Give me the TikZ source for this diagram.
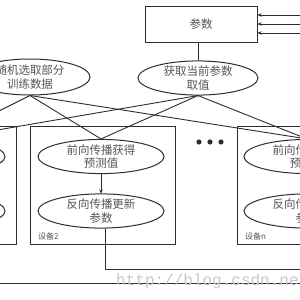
\documentclass[tikz,border=0pt]{standalone}
\usepackage{fontspec}
\newfontfamily\cjk{Noto Sans CJK SC}
\newfontfamily\wm{Liberation Mono}
\usetikzlibrary{shapes.geometric,arrows.meta}
\definecolor{ink}{HTML}{2E2E2E}
\definecolor{txt}{HTML}{555555}
\tikzset{
  ln/.style={draw=ink, line width=1pt},
  oval/.style={ln, ellipse, minimum width=126pt, minimum height=33pt, inner sep=0pt,
    align=center, font=\cjk\fontsize{11.5}{13.5}\selectfont, text=txt},
  topoval/.style={oval, minimum width=120pt, minimum height=34pt},
  devbox/.style={ln, rectangle, minimum width=145pt, minimum height=118pt, inner sep=0pt},
  devlabel/.style={anchor=west, inner sep=0pt, font=\cjk\fontsize{8}{9}\selectfont, text=txt},
  arr/.style={ln, -{Stealth[length=4pt,width=3.5pt]}},
}
\begin{document}
\begin{tikzpicture}[x=1pt,y=-1pt]
\useasboundingbox (0,0) rectangle (300,300);
\clip (0,0) rectangle (300,300);
\fill[white] (0,0) rectangle (300,300);
% parameter box
\node[ln, rectangle, minimum width=112pt, minimum height=36pt, inner sep=0pt,
  font=\cjk\fontsize{11.5}{13.5}\selectfont, text=txt] (params) at (201,24) {参数};
% top ellipses
\node[topoval] (getp) at (198,78) {获取当前参数\\取值};
\node[topoval, minimum height=36pt] (data) at (30,77) {随机选取部分\\训练数据};
\draw[ln] (params.south -| getp.north) -- (getp.north);
% device boxes
\node[devbox] (dev1) at (-56.5,185) {};
\node[devbox] (dev2) at (102.5,185) {};
\node[devbox] (devn) at (309.5,185) {};
% device ellipses
\node[oval] (fwd1) at (-58,156.5) {};
\node[oval] (bwd1) at (-58,211) {};
\node[oval] (fwd2) at (101,156.5) {前向传播获得\\预测值};
\node[oval] (bwd2) at (101,211) {反向传播更新\\参数};
\node[oval] (fwdn) at (307,156.5) {前向传播获得\\预测值};
\node[oval] (bwdn) at (307,211) {反向传播更新\\参数};
\draw[arr] (fwd1) -- (bwd1);
\draw[arr] (fwd2) -- (bwd2);
\draw[arr] (fwdn) -- (bwdn);
% labels
\node[devlabel] (lab2) at (38,236) {设备2};
\node[devlabel] (labn) at (245,236) {设备n};
% dots
\fill[ink] (199,142) circle (2.6pt) (210,142) circle (2.6pt) (221,142) circle (2.6pt);
% crossing connectors
\foreach \s in {data,getp}{
  \foreach \t in {fwd1,fwd2,fwdn}{
    \draw[ln, line width=0.9pt] (\s.south) -- (\t.north);
  }
}
% return loops
\coordinate (r1) at (330,283);
\coordinate (r2) at (320,269);
\coordinate (rn) at (310,255);
\coordinate (q1) at (330,15);
\coordinate (q2) at (320,24);
\coordinate (qn) at (310,33);
\draw[ln] ([xshift=4pt]bwd1.south) |- (r1) -- (q1);
\draw[ln] ([xshift=4pt]bwd2.south) |- (r2) -- (q2);
\draw[ln] ([xshift=4pt]bwdn.south) |- (rn) -- (qn);
\draw[arr] (q1) -- (params.east |- q1);
\draw[arr] (q2) -- (params.east |- q2);
\draw[arr] (qn) -- (params.east |- qn);
% watermark
\node[anchor=west, inner sep=0pt, text=black!22, font=\wm\fontsize{16}{16}\selectfont] (wmk) at (116,281) {http://blog.csdn.net};
\end{tikzpicture}
\end{document}
